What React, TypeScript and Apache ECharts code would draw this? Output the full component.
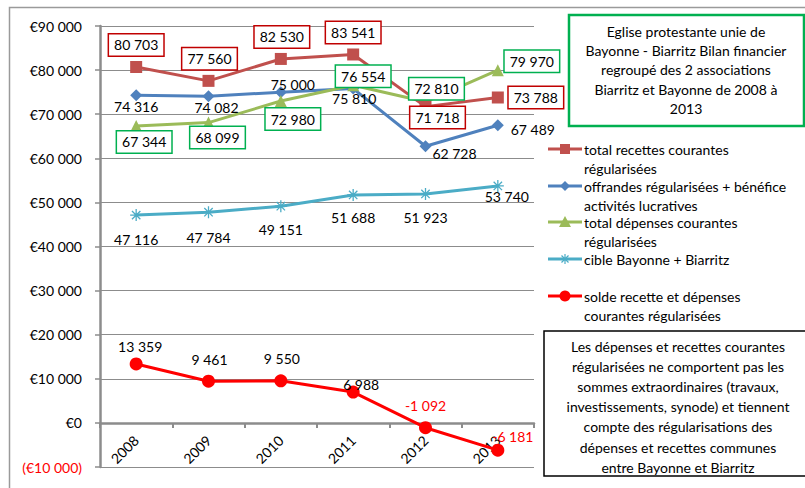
import React, { useEffect, useRef } from "react";
import * as echarts from "echarts";

const years = ["2008", "2009", "2010", "2011", "2012", "2013"];
const recettes = [80703, 77560, 82530, 83541, 71718, 73788];
const offrandes = [74316, 74082, 75000, 75810, 62728, 67489];
const depenses = [67344, 68099, 72980, 76554, 72810, 79970];
const cible = [47116, 47784, 49151, 51688, 51923, 53740];
const solde = [13359, 9461, 9550, 6988, -1092, -6181];

const yTicks = { min: -10000, max: 90000, interval: 10000 };

const seriesNames = [
  "total recettes courantes régularisées",
  "offrandes régularisées + bénéfice activités lucratives",
  "total dépenses courantes régularisées",
  "cible Bayonne + Biarritz",
  "solde recette et dépenses courantes régularisées",
];

const legendLines = [
  ["total recettes courantes", "régularisées"],
  ["offrandes régularisées + bénéfice", "activités lucratives"],
  ["total dépenses courantes", "régularisées"],
  ["cible Bayonne + Biarritz"],
  ["solde recette et dépenses", "courantes régularisées"],
];

const titleLines = [
  "Eglise protestante unie de",
  "Bayonne - Biarritz Bilan financier",
  "regroupé des 2 associations",
  "Biarritz et Bayonne de 2008 à",
  "2013",
];

const noteLines = [
  "Les dépenses et recettes courantes",
  "régularisées ne comportent pas les",
  "sommes extraordinaires (travaux,",
  "investissements, synode) et tiennent",
  "compte des régularisations des",
  "dépenses et recettes communes",
  "entre Bayonne et Biarritz",
];

// label offsets (relative to point centre)
const offRecettes = [[0, -22], [1, -22], [1, -22], [0, -22], [12, 11], [38, 0]];
const offOffrandes = [[0, 11], [8, 11], [12, -8], [1, 10], [29, 7], [35, 4]];
const offDepenses = [[8, 16], [9, 15], [12, 18], [10, -9], [11, -13], [34, -9]];
const offCible = [[0, 24], [0, 25], [0, 23], [0, 23], [0, 24], [9, 11]];
const offSolde = [[4, -17], [1, -22], [1, -22], [8, -8], [0, -22], [15, -14]];

const FONT = "Lato, 'Open Sans', sans-serif";
const C_RED = "#C0504D";
const C_BLUE = "#4F81BD";
const C_GREEN = "#9BBB59";
const C_CYAN = "#4BACC6";
const C_SOLDE = "#FF0000";
const AXIS_GRAY = "#8C8C8C";

const GRID_TOP = 26;
const GRID_H = 441;

const STAR = "path://M0,5L10,5M5,0L5,10M1.5,1.5L8.5,8.5M8.5,1.5L1.5,8.5";

function fmt(n: number): string {
  const s = Math.abs(n)
    .toString()
    .replace(/\B(?=(\d{3})+(?!\d))/g, " ");
  return (n < 0 ? "-" : "") + s;
}

function makeSeries(
  name: string,
  values: number[],
  offsets: number[][],
  color: string,
  symbol: string,
  symbolSize: number,
  box: string | null,
  extraItem: any = {}
) {
  return {
    type: "line",
    name,
    data: values.map((v, i) => ({
      value: v,
      label: {
        offset: offsets[i],
        color: v < 0 ? C_SOLDE : "#000",
      },
    })),
    symbol,
    symbolSize,
    showSymbol: true,
    lineStyle: { width: 3, color },
    itemStyle: { color, ...extraItem },
    label: {
      show: true,
      position: "inside",
      formatter: (p: any) => fmt(p.value),
      fontSize: 14,
      fontFamily: FONT,
      color: "#000",
      ...(box
        ? {
            backgroundColor: "#fff",
            borderColor: box,
            borderWidth: 1.5,
            padding: [4, 5, 3, 5],
          }
        : {}),
    },
    emphasis: { disabled: true },
  };
}

function legendGraphics() {
  const els: any[] = [];
  const ys = [149, 186, 222, 259, 296];
  const colors = [C_RED, C_BLUE, C_GREEN, C_CYAN, C_SOLDE];
  ys.forEach((y, i) => {
    els.push({
      type: "line",
      shape: { x1: 548, y1: y, x2: 582, y2: y },
      style: { stroke: colors[i], lineWidth: 3 },
    });
    const cx = 565;
    if (i === 0) {
      els.push({ type: "rect", shape: { x: cx - 5, y: y - 5, width: 10, height: 10 }, style: { fill: colors[i] } });
    } else if (i === 1) {
      els.push({
        type: "polygon",
        shape: { points: [[cx, y - 5], [cx + 5, y], [cx, y + 5], [cx - 5, y]] },
        style: { fill: colors[i] },
      });
    } else if (i === 2) {
      els.push({
        type: "polygon",
        shape: { points: [[cx, y - 6], [cx + 6, y + 5], [cx - 6, y + 5]] },
        style: { fill: colors[i] },
      });
    } else if (i === 3) {
      [[-5, 0, 5, 0], [0, -5, 0, 5], [-3.5, -3.5, 3.5, 3.5], [3.5, -3.5, -3.5, 3.5]].forEach((s) => {
        els.push({
          type: "line",
          shape: { x1: cx + s[0], y1: y + s[1], x2: cx + s[2], y2: y + s[3] },
          style: { stroke: colors[i], lineWidth: 1.2 },
        });
      });
    } else {
      els.push({ type: "circle", shape: { cx, cy: y, r: 5.5 }, style: { fill: colors[i] } });
    }
    els.push({
      type: "text",
      x: 584,
      y: y - 9.5,
      style: {
        text: legendLines[i].join("\n"),
        font: `14px ${FONT}`,
        fill: "#000",
        lineHeight: 19,
        textVerticalAlign: "top",
        textAlign: "left",
      },
    });
  });
  return els;
}

export default function App() {
  const ref = useRef<HTMLDivElement>(null);
  useEffect(() => {
    if (!ref.current) return;
    const chart = echarts.init(ref.current, null, { renderer: "svg" });
    // distance from the bottom of the grid (min) up to zero
    const zeroOffset = (GRID_H * (0 - yTicks.min)) / (yTicks.max - yTicks.min);
    const option: any = {
      animation: false,
      backgroundColor: "#fff",
      grid: {
        left: 100,
        top: GRID_TOP,
        width: 434,
        height: GRID_H,
        containLabel: false,
        outerBoundsMode: "none",
      },
      xAxis: {
        type: "category",
        data: years,
        boundaryGap: true,
        position: "bottom",
        offset: -zeroOffset,
        axisLine: { onZero: false, lineStyle: { color: AXIS_GRAY, width: 2.5 } },
        axisTick: { show: true, length: 5, lineStyle: { color: AXIS_GRAY, width: 2 } },
        axisLabel: { rotate: 45, margin: 15, fontSize: 14, fontFamily: FONT, color: "#000" },
        splitLine: { show: false },
      },
      yAxis: {
        type: "value",
        min: yTicks.min,
        max: yTicks.max,
        interval: yTicks.interval,
        axisLine: { show: true, lineStyle: { color: AXIS_GRAY, width: 2.5 } },
        axisTick: { show: true, length: 5, lineStyle: { color: AXIS_GRAY, width: 1.5 } },
        axisLabel: {
          margin: 18,
          fontSize: 14,
          fontFamily: FONT,
          color: (v: any) => (Number(v) < 0 ? C_SOLDE : "#000"),
          formatter: (v: number) => (v < 0 ? `(€${fmt(-v)})` : `€${fmt(v)}`),
        },
        splitLine: { show: true, lineStyle: { color: AXIS_GRAY, width: 1 } },
      },
      series: [
        makeSeries(seriesNames[4], solde, offSolde, C_SOLDE, "circle", 13, null),
        makeSeries(seriesNames[3], cible, offCible, C_CYAN, STAR, 12, null, {
          borderColor: C_CYAN,
          borderWidth: 1.3,
        }),
        makeSeries(seriesNames[1], offrandes, offOffrandes, C_BLUE, "diamond", 12, null),
        makeSeries(seriesNames[2], depenses, offDepenses, C_GREEN, "triangle", 12, "#00B050"),
        makeSeries(seriesNames[0], recettes, offRecettes, C_RED, "rect", 12, "#C00000"),
      ],
      graphic: [
        {
          type: "rect",
          z: -10,
          shape: { x: 9.5, y: 7.5, width: 820, height: 500 },
          style: { fill: "none", stroke: "#9A9A9A", lineWidth: 1.5 },
        },
        {
          type: "rect",
          shape: { x: 569, y: 15, width: 235, height: 111 },
          style: { fill: "#fff", stroke: "#00B050", lineWidth: 2.5 },
        },
        {
          type: "text",
          x: 686,
          y: 21.5,
          style: {
            text: titleLines.join("\n"),
            font: `14px ${FONT}`,
            fill: "#000",
            lineHeight: 19.3,
            textAlign: "center",
            textVerticalAlign: "top",
          },
        },
        {
          type: "rect",
          shape: { x: 544, y: 331, width: 280, height: 145 },
          style: { fill: "#fff", stroke: "#000", lineWidth: 1.5 },
        },
        {
          type: "text",
          x: 678,
          y: 336,
          style: {
            text: noteLines.join("\n"),
            font: `14px ${FONT}`,
            fill: "#000",
            lineHeight: 20.2,
            textAlign: "center",
            textVerticalAlign: "top",
          },
        },
        ...legendGraphics(),
      ],
    };
    chart.setOption(option);
    return () => chart.dispose();
  }, []);
  return (
    <div
      ref={ref}
      style={{ position: "fixed", left: 0, top: 0, width: 805, height: 488 }}
    />
  );
}
